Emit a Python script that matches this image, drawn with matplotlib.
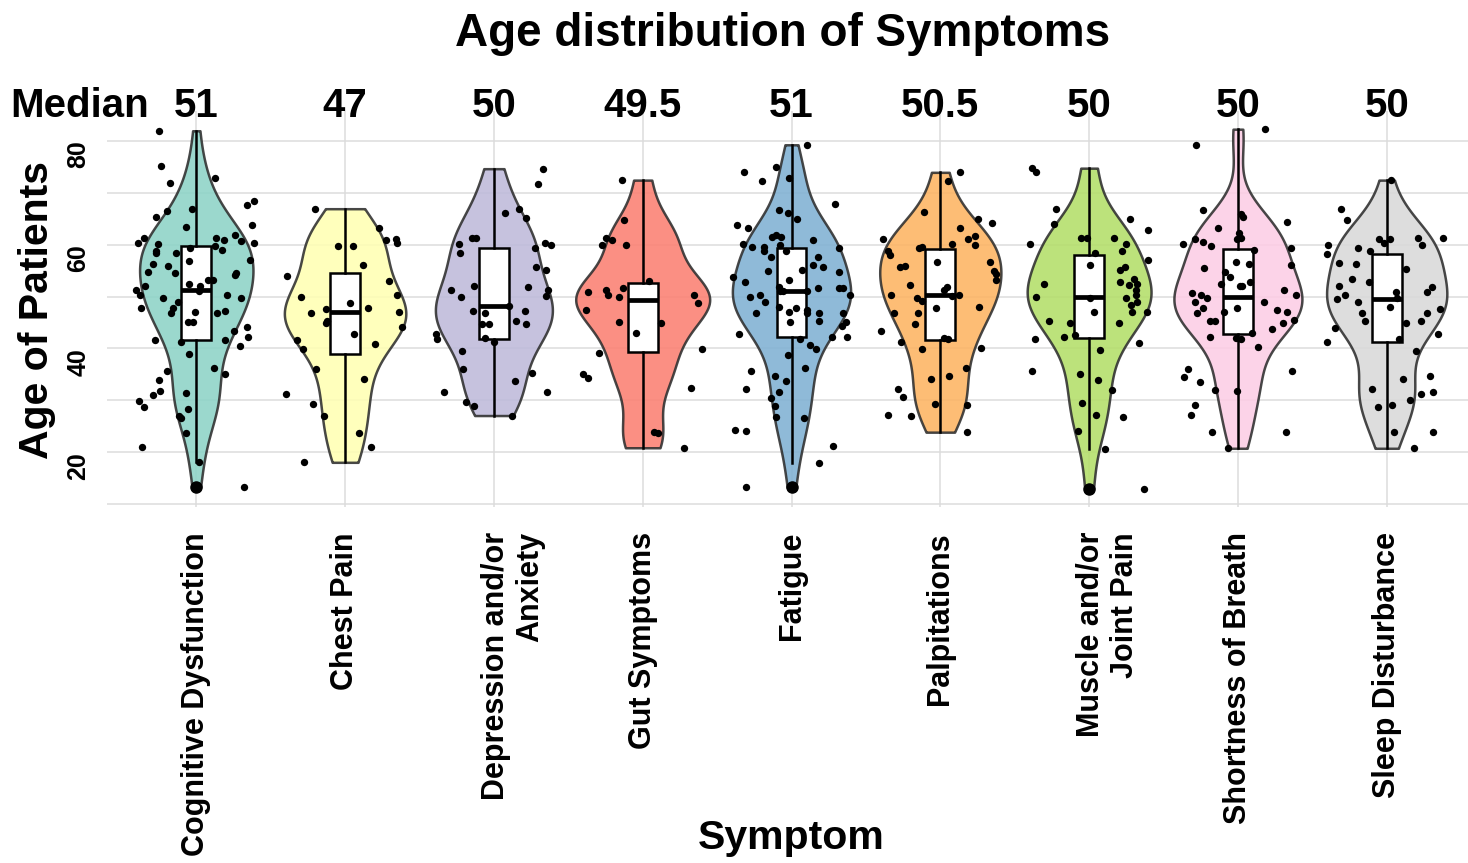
import numpy as np
import matplotlib
matplotlib.use('Agg')
import matplotlib.pyplot as plt
from matplotlib.transforms import ScaledTranslation, blended_transform_factory

plt.rcParams['font.family'] = ['Liberation Sans', 'DejaVu Sans']
plt.rcParams['font.weight'] = 'bold'

# symptom groups and the medians printed above them
symptoms = ['Cognitive Dysfunction', 'Chest Pain', 'Depression and/or\nAnxiety', 'Gut Symptoms',
            'Fatigue', 'Palpitations', 'Muscle and/or\nJoint Pain', 'Shortness of Breath',
            'Sleep Disturbance']
median_labels = ['51', '47', '50', '49.5', '51', '50.5', '50', '50', '50']
colors = ['#8DD3C7', '#FFFFB3', '#BEBADA', '#FB8072', '#80B1D3', '#FDB462', '#B3DE69', '#FCCDE5', '#D9D9D9']

# ages, with the horizontal jitter of each dot
cognitive_age = [81.9, 75.2, 71.9, 72.9, 67.6, 68.4, 66.9, 66.4, 65.3, 63.7, 63.3, 60.3, 61.2, 60.1, 58.8, 58.3,
                 58.3, 56.3, 54.7, 55.8, 54.6, 59.3, 56.9, 61.2, 60.9, 59.8, 59.0, 61.9, 60.6, 60.3, 57.1, 54.6,
                 54.2, 53.2, 53.1, 52.1, 52.4, 52.0, 51.3, 50.2, 49.7, 47.8, 49.0, 47.8, 46.8, 51.0, 47.1, 45.1,
                 45.1, 50.2, 49.7, 46.9, 47.2, 43.3, 44.2, 42.2, 40.4, 41.7, 41.7, 41.3, 38.9, 36.2, 35.1, 35.7,
                 34.0, 31.9, 31.0, 29.9, 28.7, 31.5, 28.3, 27.1, 26.6, 23.7, 21.0, 18.1, 13.3]
cognitive_jit = [-0.253, -0.237, -0.179, 0.128, 0.340, 0.385, -0.029, -0.197, -0.271, 0.372, -0.067, -0.392, -0.354,
                 -0.257, -0.269, -0.269, -0.139, -0.293, -0.322, -0.193, -0.146, -0.045, -0.047, 0.134, 0.188,
                 0.128, 0.172, 0.260, 0.298, 0.390, 0.363, 0.269, 0.262, 0.076, 0.112, 0.022, -0.051, -0.347,
                 -0.403, -0.376, -0.226, -0.369, -0.123, -0.154, -0.170, 0.016, -0.011, -0.058, -0.022, 0.204,
                 0.302, 0.137, 0.193, 0.253, 0.340, 0.345, 0.291, 0.193, -0.280, -0.101, -0.047, 0.116, 0.195,
                 -0.195, -0.248, -0.242, -0.293, -0.387, -0.351, -0.069, -0.058, -0.114, -0.103, -0.069, -0.365,
                 0.016, 0.318]

chest_age = [66.9, 63.1, 60.8, 61.1, 60.3, 59.7, 59.7, 56.0, 54.0, 53.0, 49.9, 50.3, 48.7, 46.9, 47.6, 47.7,
             47.1, 44.9, 45.3, 44.1, 42.8, 41.7, 39.9, 40.9, 36.1, 34.2, 31.3, 29.4, 27.1, 23.7, 21.1, 18.1]
chest_jit = [-0.201, 0.231, 0.275, 0.340, 0.351, -0.049, 0.054, 0.121, -0.387, 0.293, -0.295, 0.349, 0.036,
             -0.231, -0.125, 0.152, 0.360, -0.128, -0.121, 0.385, 0.063, -0.322, -0.282, 0.204, -0.193, 0.130,
             -0.394, -0.213, -0.143, 0.092, 0.175, -0.278]

depression_age = [74.6, 71.7, 66.0, 66.8, 65.2, 61.3, 61.2, 60.1, 58.3, 60.3, 59.9, 59.4, 55.6, 55.1, 52.1, 51.3,
                  50.0, 51.9, 51.2, 50.1, 48.2, 47.2, 46.9, 47.2, 45.3, 44.7, 44.8, 44.8, 42.1, 41.3, 42.8, 41.9,
                  39.6, 36.0, 35.3, 33.7, 31.6, 31.6, 29.7, 29.0, 27.1]
depression_jit = [0.331, 0.295, 0.074, 0.172, 0.219, -0.148, -0.119, -0.237, -0.228, 0.345, 0.383, 0.275, 0.284,
                  0.347, -0.137, -0.289, -0.222, 0.226, 0.363, 0.351, 0.103, -0.143, -0.058, 0.208, 0.146, 0.213,
                  -0.081, -0.036, -0.063, 0.0, -0.390, -0.381, -0.213, -0.208, 0.253, 0.143, -0.336, 0.360,
                  -0.186, -0.134, 0.125]

gut_age = [72.4, 64.8, 61.3, 60.8, 59.9, 59.9, 53.0, 50.8, 51.3, 50.3, 49.9, 51.7, 50.3, 48.8, 47.4, 45.1,
           44.9, 42.9, 39.1, 39.9, 35.0, 34.3, 32.4, 24.0, 23.7, 20.9]
gut_jit = [-0.141, -0.123, -0.244, -0.204, -0.275, -0.112, 0.040, -0.367, -0.244, -0.231, -0.161, -0.134, 0.345,
           0.369, -0.383, -0.161, 0.125, -0.047, -0.293, 0.396, -0.398, -0.365, 0.327, 0.074, 0.105, 0.278]

fatigue_age = [79.2, 73.9, 75.0, 72.2, 72.8, 67.9, 66.7, 66.0, 64.9, 63.7, 63.1, 61.4, 61.9, 61.4, 60.1, 59.6,
               59.6, 58.8, 59.9, 58.7, 57.7, 60.9, 59.4, 57.6, 56.1, 55.7, 55.0, 55.1, 54.7, 53.8, 52.7, 53.1,
               51.9, 51.0, 51.0, 51.0, 51.6, 51.6, 51.6, 50.2, 49.9, 50.2, 49.0, 46.8, 48.0, 47.1, 47.8, 45.1,
               47.4, 46.8, 46.9, 45.3, 46.8, 45.1, 44.4, 42.2, 42.3, 41.9, 42.8, 40.6, 39.9, 38.8, 36.3, 35.6,
               34.8, 33.8, 32.3, 31.7, 30.4, 29.0, 26.9, 26.7, 24.3, 24.2, 21.3, 17.9, 13.3]
fatigue_jit = [0.107, -0.316, -0.107, -0.199, -0.018, 0.291, -0.083, -0.022, 0.038, -0.363, -0.289, -0.132, -0.107,
               -0.072, -0.329, -0.264, -0.184, -0.184, -0.078, -0.036, -0.139, 0.146, 0.322, 0.181, 0.143, 0.215,
               -0.157, 0.069, 0.316, -0.392, -0.313, -0.018, -0.083, -0.078, -0.054, 0.107, 0.181, 0.322, 0.349,
               0.392, -0.280, -0.215, -0.175, -0.240, -0.083, -0.018, 0.031, -0.007, 0.105, 0.105, 0.186, 0.186,
               0.349, 0.365, 0.338, 0.275, 0.374, 0.056, -0.356, 0.125, 0.163, -0.022, 0.090, -0.271, -0.114,
               -0.036, -0.307, -0.085, -0.141, -0.114, -0.105, 0.085, -0.383, -0.304, 0.278, 0.184, -0.309]

palpitations_age = [73.9, 72.2, 66.3, 64.9, 64.1, 63.1, 61.7, 61.0, 60.0, 60.1, 61.0, 58.8, 57.9, 59.4, 59.5, 55.6,
                    55.8, 56.6, 56.7, 55.0, 54.4, 53.2, 52.2, 51.9, 51.3, 50.1, 50.3, 50.2, 49.7, 49.1, 47.8, 47.9,
                    46.8, 46.8, 44.7, 43.3, 42.1, 41.9, 41.2, 39.9, 40.1, 36.2, 34.2, 34.7, 32.3, 30.6, 29.3, 29.1,
                    27.2, 27.1, 23.9]
palpitations_jit = [0.130, 0.054, -0.107, 0.255, 0.345, 0.132, 0.233, 0.184, 0.235, 0.081, -0.383, -0.349, -0.338,
                    -0.141, -0.123, -0.271, -0.235, -0.020, 0.334, 0.358, 0.372, 0.374, -0.204, 0.047, 0.025, 0.078,
                    0.128, -0.329, -0.159, -0.121, -0.027, 0.260, -0.313, -0.148, -0.168, -0.396, 0.027, 0.049,
                    -0.262, -0.125, 0.273, 0.172, -0.065, 0.058, -0.282, -0.248, -0.034, 0.179, -0.354, -0.197,
                    0.179]

muscle_age = [74.7, 74.0, 66.8, 63.9, 64.9, 62.8, 60.1, 61.2, 61.2, 61.2, 60.2, 58.8, 58.3, 57.1, 56.0, 55.2,
              55.6, 53.3, 52.4, 52.8, 52.2, 52.4, 50.0, 51.3, 50.3, 49.7, 49.0, 48.3, 47.1, 49.7, 47.0, 47.0,
              45.3, 44.9, 44.9, 42.2, 42.6, 41.9, 41.0, 39.7, 35.7, 35.1, 34.0, 32.1, 29.6, 27.2, 26.9, 24.2,
              20.7, 13.0]
muscle_jit = [-0.387, -0.360, -0.224, -0.235, 0.278, 0.394, -0.394, -0.054, -0.013, 0.166, 0.246, 0.224, 0.040,
              0.394, 0.004, 0.206, 0.240, 0.302, 0.325, 0.206, 0.269, -0.304, -0.358, 0.318, 0.313, 0.246, 0.325,
              0.280, 0.287, 0.004, 0.036, 0.387, -0.271, -0.130, 0.204, -0.172, -0.098, -0.365, 0.334, 0.076,
              -0.383, -0.063, 0.058, 0.154, -0.045, 0.047, 0.228, -0.074, 0.105, 0.369]

breath_age = [82.2, 79.2, 66.7, 65.8, 65.3, 64.3, 63.1, 62.2, 61.2, 61.1, 61.1, 60.4, 59.7, 60.1, 59.0, 59.3,
              56.0, 56.6, 56.2, 55.4, 54.7, 53.8, 52.8, 52.1, 52.1, 52.4, 51.3, 50.2, 50.6, 50.3, 49.8, 49.0,
              47.8, 46.8, 47.1, 47.8, 49.0, 47.4, 47.0, 45.4, 45.0, 43.8, 45.3, 45.2, 42.9, 42.0, 41.9, 42.2,
              40.3, 36.0, 34.6, 33.6, 35.6, 32.1, 31.9, 29.2, 27.2, 23.9, 24.0, 20.8]
breath_jit = [0.184, -0.282, -0.233, 0.022, 0.036, 0.327, -0.132, 0.009, 0.022, -0.007, -0.289, -0.233, -0.181,
              -0.372, 0.107, 0.354, 0.354, -0.013, 0.072, -0.228, -0.085, -0.056, 0.081, 0.011, 0.027, -0.114,
              0.307, 0.390, -0.311, -0.248, -0.210, -0.291, -0.237, -0.275, -0.096, -0.004, 0.172, 0.266, 0.327,
              0.378, 0.300, 0.226, -0.188, -0.157, 0.098, -0.013, 0.022, -0.190, 0.137, -0.334, -0.360, -0.255,
              0.363, -0.157, -0.004, -0.287, -0.318, -0.175, 0.320, -0.069]

sleep_age = [72.4, 66.9, 64.7, 61.1, 60.3, 61.1, 61.2, 60.0, 61.3, 59.9, 58.1, 59.4, 58.8, 56.4, 56.3, 55.3,
             53.3, 52.7, 52.1, 49.6, 50.3, 51.8, 50.8, 50.8, 49.7, 49.0, 47.9, 47.6, 46.9, 46.9, 45.2, 44.9,
             45.2, 44.0, 42.7, 41.9, 41.2, 39.6, 34.2, 34.8, 32.3, 31.3, 31.6, 28.8, 29.1, 30.1, 23.9, 24.0, 20.8]
sleep_jit = [0.029, -0.307, -0.269, -0.049, -0.016, 0.025, 0.213, 0.237, 0.378, -0.392, -0.403, -0.190, -0.114,
             -0.320, -0.204, 0.132, -0.235, -0.116, -0.322, -0.336, -0.280, 0.304, 0.273, 0.063, 0.072, -0.190,
             0.025, 0.360, 0.269, -0.166, -0.143, 0.128, 0.231, -0.345, 0.343, 0.083, -0.403, 0.199, 0.112,
             0.289, -0.096, 0.233, 0.309, -0.056, 0.038, 0.159, 0.051, 0.311, 0.184]

ages = [cognitive_age, chest_age, depression_age, gut_age, fatigue_age, palpitations_age,
        muscle_age, breath_age, sleep_age]
jitters = [cognitive_jit, chest_jit, depression_jit, gut_jit, fatigue_jit, palpitations_jit,
           muscle_jit, breath_jit, sleep_jit]


# gaussian kde with the nrd0 bandwidth (what ggplot uses)
def kde(vals, grid):
    vals = np.asarray(vals)
    n = len(vals)
    iqr = np.subtract(*np.percentile(vals, [75, 25]))
    bw = 0.9 * min(vals.std(ddof=1), iqr / 1.34) * n ** -0.2
    z = (grid[:, None] - vals[None, :]) / bw
    return np.exp(-0.5 * z ** 2).sum(axis=1) / (n * bw * np.sqrt(2 * np.pi))


grids = []
dens = []
for a in ages:
    g = np.linspace(min(a), max(a), 400)
    grids.append(g)
    dens.append(kde(a, g))
dmax = max(d.max() for d in dens)

fig = plt.figure(figsize=(14.68, 8.63), dpi=100)
W, H = 1468, 863
ax = fig.add_axes([107 / W, 1 - 507 / H, 1369 / W, 396 / H])

pos = np.arange(1, len(symptoms) + 1)

# violins (scale = area)
for i, (g, d) in enumerate(zip(grids, dens)):
    w = 0.45 * d / dmax
    ax.fill_betweenx(g, pos[i] - w, pos[i] + w, facecolor=colors[i], alpha=0.88,
                     edgecolor='#2e2e2e', linewidth=1.8, zorder=2)

# boxplots
ax.boxplot(ages, positions=pos, widths=0.2, patch_artist=True, whis=1.5, showcaps=False,
           boxprops=dict(facecolor='white', edgecolor='black', linewidth=1.8),
           medianprops=dict(color='black', linewidth=3.4),
           whiskerprops=dict(color='black', linewidth=1.8),
           flierprops=dict(marker='o', markerfacecolor='black', markeredgecolor='black', markersize=8),
           zorder=3)

# jittered points
for i in range(len(symptoms)):
    ax.scatter(pos[i] + np.array(jitters[i]), ages[i], s=28, color='black', linewidths=0, zorder=4)

ax.set_xlim(0.4, 9.6)
ax.set_ylim(9.5, 85.7)
ax.set_yticks([20, 40, 60, 80])
ax.set_yticks([10, 30, 50, 70], minor=True)
ax.set_xticks(pos)
ax.set_xticklabels([])
for lbl in ax.get_yticklabels():
    lbl.set_rotation(90)
    lbl.set_va('top')
    lbl.set_fontsize(18)
    lbl.set_fontweight('bold')

ax.tick_params(axis='x', length=0)
ax.tick_params(axis='y', which='both', length=0, pad=12)
ax.grid(True, which='major', color='#dcdcdc', linewidth=1.1, zorder=0)
ax.grid(True, which='minor', axis='y', color='#dcdcdc', linewidth=1.1, zorder=0)
ax.set_axisbelow(True)
for s in ax.spines.values():
    s.set_visible(False)

# category labels under the panel, two-line ones nudged right like ggplot does
trans = blended_transform_factory(ax.transData, ax.transAxes)
for i, name in enumerate(symptoms):
    dx = 0.19 if '\n' in name else 0.0
    t = trans + ScaledTranslation(dx, -0.25, fig.dpi_scale_trans)
    ax.text(pos[i], 0, name, transform=t, rotation=90, ha='center', va='top',
            multialignment='right', fontsize=22, fontweight='bold', clip_on=False)

# medians above each violin
for i, m in enumerate(median_labels):
    ax.text(pos[i], 84.6, m, ha='center', va='baseline', fontsize=29, fontweight='bold', clip_on=False)
fig.text(10 / W, 1 - 117 / H, 'Median', ha='left', va='baseline', fontsize=29, fontweight='bold')

fig.text(783 / W, 1 - 46 / H, 'Age distribution of Symptoms', ha='center', va='baseline',
         fontsize=33, fontweight='bold')
fig.text(37 / W, 1 - 310 / H, 'Age of Patients', rotation=90, ha='center', va='center',
         fontsize=29.5, fontweight='bold')
fig.text(791 / W, 1 - 838 / H, 'Symptom', ha='center', va='center', fontsize=29.5, fontweight='bold')

fig.savefig('out.png', dpi=100)
